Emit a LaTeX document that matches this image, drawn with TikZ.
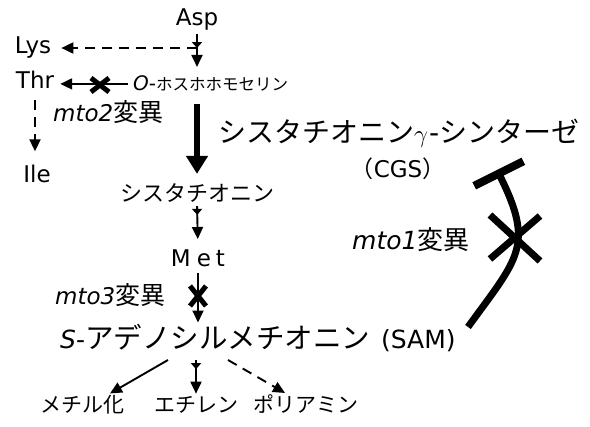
\documentclass[tikz,border=0pt]{standalone}
\usepackage{fontspec}
\setmainfont{DejaVu Sans}
\newfontfamily\jp{Noto Sans CJK JP}
\usetikzlibrary{arrows.meta,decorations.markings}
\newcommand\fsz[1]{\fontsize{#1}{#1}\selectfont}
\begin{document}
\begin{tikzpicture}[x=1pt,y=-1pt,
  lbl/.style={inner sep=0pt, anchor=base},
  lblw/.style={inner sep=0pt, anchor=base west},
  thinarr/.style={line width=1.9pt, -{Triangle[length=12pt,width=11pt]}},
  dasharr/.style={thinarr, dash pattern=on 10pt off 7pt},
  bigarr/.style={line width=6.5pt, -{Triangle[length=18pt,width=21pt]}},
  midtip/.style={postaction={decorate},
    decoration={markings, mark=at position #1 with {\arrow{Triangle[length=6pt,width=10pt]}}}},
  xmk/.style={line width=5pt},
  bigx/.style={line width=7pt},
  inhib/.style={line width=7pt, -{Bar[width=55pt,line width=8pt]}}
]
\useasboundingbox[fill=white] (0,0) rectangle (590,427);

% nodes
\node[lbl,font=\fsz{23}] (asp) at (197,26) {Asp};
\node[lbl,font=\fsz{23}] (lys) at (33,54) {Lys};
\node[lbl,font=\fsz{23}] (thr) at (35,89) {Thr};
\node[lbl,font=\fsz{23}] (ile) at (37,183) {Ile};
\node[lblw] (oph) at (133,91) {\fsz{20}\itshape O\upshape-{\jp\fsz{16.5}ホスホホモセリン}};
\node[lblw] (mto2) at (53,122) {\fsz{23}\itshape mto2\upshape{\jp\fsz{25}変異}};
\node[lblw] (cgs) at (218,143) {\jp\fsz{28}シスタチオニン$\gamma$\hspace{1pt}{\rmfamily -}シンターゼ};
\node[lbl] (cgsab) at (398,178) {\fsz{23}{\jp （}CGS{\jp ）}};
\node[lblw] (cys) at (120,202) {\jp\fsz{22}シスタチオニン};
\node[lbl,font=\fsz{23}] (met) at (198,267) {M\hspace{6pt}e\hspace{5pt}t};
\node[lblw] (mto3) at (55,305) {\fsz{23}\itshape mto3\upshape{\jp\fsz{25}変異}};
\node[lblw] (mto1) at (352,250) {\fsz{25}\itshape mto1\upshape{\jp\fsz{26}変異}};
\node[lblw] (sam) at (60,349) {\fsz{25}\itshape S\upshape-{\jp\fsz{28.5}アデノシルメチオニン}\hspace{11pt}\fsz{25}(SAM)};
\node[lbl] (meth) at (83,413) {\jp\fsz{21}メチル化};
\node[lbl] (eth) at (196,413) {\jp\fsz{21}エチレン};
\node[lbl] (poly) at (306,413) {\jp\fsz{21}ポリアミン};

% connectors
\draw[thinarr, midtip=0.38, shorten <=3pt, shorten >=9pt] (asp.south) -- (asp.south |- oph.north);
\draw[dasharr, shorten >=10pt] (asp.south |- lys) -- (lys.east);
\draw[thinarr, shorten <=5pt, shorten >=6pt] (oph.west) -- (oph.west -| thr.east);
\draw[dasharr, shorten <=11pt, shorten >=14pt] (thr.south) -- (thr.south |- ile.north);
\draw[bigarr, shorten <=12pt, shorten >=10pt] (asp.south |- oph.south) -- (asp.south |- cys.north);
\draw[thinarr, midtip=0.25, shorten <=3pt, shorten >=11pt] (asp.south |- cys.south) -- (met.north);
\draw[thinarr, shorten <=5pt, shorten >=2pt] (met.south) -- (met.south |- sam.north);
\coordinate (s1) at (168,360);
\coordinate (s3) at (228,360);
\draw[thinarr] (s1) -- ([xshift=27pt,yshift=2pt]meth.north);
\draw[thinarr, midtip=0.25, shorten >=3pt] (eth.north |- s1) -- (eth.north);
\draw[dasharr] (s3) -- ([xshift=-21pt,yshift=2pt]poly.north);

% mutation crosses
\coordinate (x2) at (100,85);
\draw[xmk] (x2) +(-9,-7) -- +(9,7) (x2) +(-9,7) -- +(9,-7);
\coordinate (x3) at (198,296);
\draw[xmk] (x3) +(-8,-10) -- +(8,10) (x3) +(-8,10) -- +(8,-10);

% SAM inhibits CGS
\coordinate (samE) at (468,327);
\coordinate (cgsE) at (497,170);
\draw[inhib] (samE) .. controls (518,258) and (535,246) .. (cgsE);
\coordinate (x1) at (515,238);
\draw[bigx] (x1) +(-25,-23) -- +(25,23) (x1) +(-25,21) -- +(25,-22);
\end{tikzpicture}
\end{document}
